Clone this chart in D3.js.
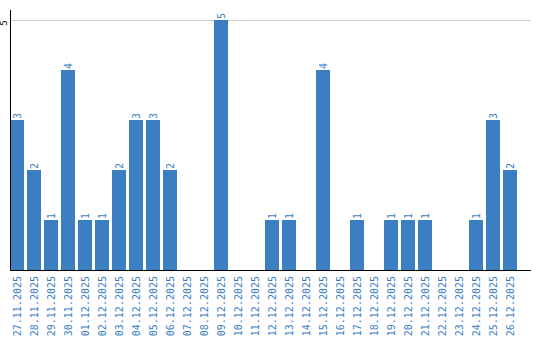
<!DOCTYPE html>
<html>
<head>
<meta charset="utf-8">
<script src="https://cdn.jsdelivr.net/npm/d3@7"></script>
<style>
  body { margin: 0; background: #fff; }
  text { font-family: "DejaVu Sans Mono", monospace; font-size: 10px; }
</style>
</head>
<body>
<svg id="chart" width="540" height="340"></svg>
<script>
var days = ["27.11.2025", "28.11.2025", "29.11.2025", "30.11.2025", "01.12.2025", "02.12.2025",
  "03.12.2025", "04.12.2025", "05.12.2025", "06.12.2025", "07.12.2025", "08.12.2025",
  "09.12.2025", "10.12.2025", "11.12.2025", "12.12.2025", "13.12.2025", "14.12.2025",
  "15.12.2025", "16.12.2025", "17.12.2025", "18.12.2025", "19.12.2025", "20.12.2025",
  "21.12.2025", "22.12.2025", "23.12.2025", "24.12.2025", "25.12.2025", "26.12.2025"];
var counts = [3, 2, 1, 4, 1, 1, 2, 3, 3, 2, 0, 0, 5, 0, 0, 1, 1, 0, 4, 0, 1, 0, 1, 1, 1, 0, 0, 1, 3, 2];
var yTicks = [5];

var blue = "#3b7ec2";
var svg = d3.select("#chart");
var padLeft = 10, padTop = 20, baseY = 270, axisRight = 531;

var rows = days.map(function(d, i){ return { day: d, n: counts[i] }; });

// 17px step, 14px bars, no outer padding
var x = d3.scaleBand()
    .domain(days)
    .range([padLeft, padLeft + 17 * days.length - 3])
    .paddingInner(3 / 17)
    .paddingOuter(0);

var y = d3.scaleLinear()
    .domain([0, 5])
    .range([baseY, padTop]);

// gridline
svg.selectAll("line.grid")
    .data(yTicks)
    .enter()
    .append("line")
    .attr("class", "grid")
    .attr("x1", padLeft)
    .attr("x2", axisRight)
    .attr("y1", function(d){ return y(d) + 0.5; })
    .attr("y2", function(d){ return y(d) + 0.5; })
    .attr("stroke", "#cccccc")
    .attr("stroke-width", 1);

// y tick labels
svg.selectAll("text.ytick")
    .data(yTicks)
    .enter()
    .append("text")
    .attr("class", "ytick")
    .attr("transform", function(d){ return "translate(7," + (y(d) + 3) + ") rotate(-90)"; })
    .attr("text-anchor", "middle")
    .attr("fill", "#000")
    .style("font-size", "9px")
    .text(function(d){ return d; });

// bars
svg.selectAll("rect.bar")
    .data(rows)
    .enter()
    .append("rect")
    .attr("class", "bar")
    .attr("x", function(d){ return x(d.day); })
    .attr("width", x.bandwidth())
    .attr("y", function(d){ return y(d.n); })
    .attr("height", function(d){ return baseY - y(d.n); })
    .attr("fill", blue);

// value labels
svg.selectAll("text.val")
    .data(rows.filter(function(d){ return d.n > 0; }))
    .enter()
    .append("text")
    .attr("class", "val")
    .attr("transform", function(d){
        return "translate(" + (x(d.day) + x.bandwidth() / 2 + 3.5) + "," + (y(d.n) - 1) + ") rotate(-90)";
    })
    .attr("fill", blue)
    .text(function(d){ return d.n; });

// x labels
svg.selectAll("text.xl")
    .data(days)
    .enter()
    .append("text")
    .attr("class", "xl")
    .attr("transform", function(d){
        return "translate(" + (x(d) + x.bandwidth() / 2 + 3.5) + "," + (baseY + 6) + ") rotate(-90)";
    })
    .attr("text-anchor", "end")
    .attr("fill", blue)
    .text(function(d){ return d; });

// axis lines
svg.append("line")
    .attr("x1", padLeft + 0.5).attr("x2", padLeft + 0.5)
    .attr("y1", 10).attr("y2", baseY + 1)
    .attr("stroke", "#000");
svg.append("line")
    .attr("x1", padLeft).attr("x2", axisRight)
    .attr("y1", baseY + 0.5).attr("y2", baseY + 0.5)
    .attr("stroke", "#000");
</script>
</body>
</html>
